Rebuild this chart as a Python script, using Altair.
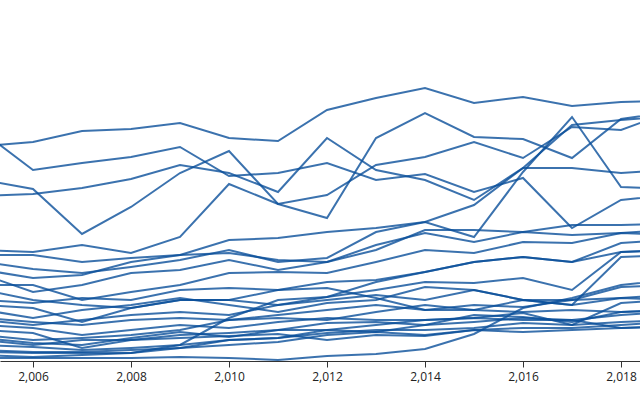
import altair as alt
import pandas as pd

years = list(range(2005, 2020))

series = {
    "L1": [215,219,230,232,238,223,220,251,263,273,258,264,255,259,260],
    "L2": [228,191,198,204,214,185,188,198,181,187,169,183,133,161,166],
    "L3": [181,172,127,154,188,210,157,166,196,204,219,203,234,231,249],
    "L4": [165,167,173,182,196,188,169,223,191,181,161,193,193,188,191],
    "L5": [111,109,116,108,124,177,157,143,223,248,224,222,203,242,249],
    "L6": [99,92,88,94,101,111,99,103,129,139,124,189,244,174,172],
    "L7": [91,83,86,99,106,121,123,129,133,139,156,193,236,241,245],
    "L8": [86,69,76,88,91,101,91,99,111,131,131,129,136,136,137],
    "L9": [76,76,61,69,76,88,89,88,99,111,108,119,118,128,131],
    "L10": [61,58,63,61,71,73,71,79,81,89,99,104,99,118,121],
    "L11": [56,53,39,53,61,61,56,64,71,79,78,83,71,109,111],
    "L12": [51,43,51,56,63,56,49,58,61,74,71,61,56,104,106],
    "L13": [43,39,36,41,43,41,46,51,56,51,56,54,61,63,66],
    "L14": [36,33,26,31,36,33,39,43,41,41,43,48,36,58,61],
    "L15": [31,28,13,21,26,28,31,38,39,36,46,44,39,49,51],
    "L16": [23,18,16,23,29,24,31,31,36,41,43,41,41,46,49],
    "L17": [16,14,11,13,16,21,23,28,31,31,33,38,36,39,41],
    "L18": [11,9,9,11,13,16,19,26,29,26,31,33,33,36,39],
    "L19": [6,4,6,8,13,21,23,31,29,36,39,43,41,33,34],
    "L20": [3,3,3,3,4,3,1,5,7,12,27,53,63,76,81],
    "L21": [9,8,8,8,16,43,61,64,79,89,99,104,99,109,111],
    "L22": [21,16,21,21,23,25,27,21,26,25,31,29,31,33,35],
    "L23": [71,61,56,53,61,61,71,73,63,51,51,49,51,49,51],
    "L24": [106,106,99,103,106,108,101,99,116,128,119,129,126,128,126],
    "L25": [26,21,23,26,31,41,43,41,49,56,51,61,56,63,61],
    "L26": [41,36,41,46,49,46,56,61,66,61,71,61,61,74,76],
}

tick_years = [2006, 2008, 2010, 2012, 2014, 2016, 2018]

rows = []
for name, vals in series.items():
    for yr, v in zip(years, vals):
        rows.append({"series": name, "year": yr, "value": v})
df = pd.DataFrame(rows)

chart = alt.Chart(df).mark_line(
    clip=True, strokeWidth=2, color="#0a4f9a", opacity=0.8
).encode(
    x=alt.X("year:Q",
            scale=alt.Scale(domain=[2005.3265, 2018.3877], nice=False, zero=False),
            axis=alt.Axis(values=tick_years, format=",", title=None, grid=False,
                          labelFont="Open Sans", labelFontSize=12, labelColor="#222",
                          domainColor="#333", tickColor="#333", tickSize=6,
                          labelPadding=4)),
    y=alt.Y("value:Q", scale=alt.Scale(domain=[0, 360], nice=False), axis=None),
    detail="series:N",
).properties(
    width=640, height=360, padding={"left": 0, "right": 0, "top": 1, "bottom": 39},
    autosize=alt.AutoSizeParams(type="none")
).configure_view(stroke=None)

chart.save("out.html", embed_options={"renderer": "svg", "actions": False})
